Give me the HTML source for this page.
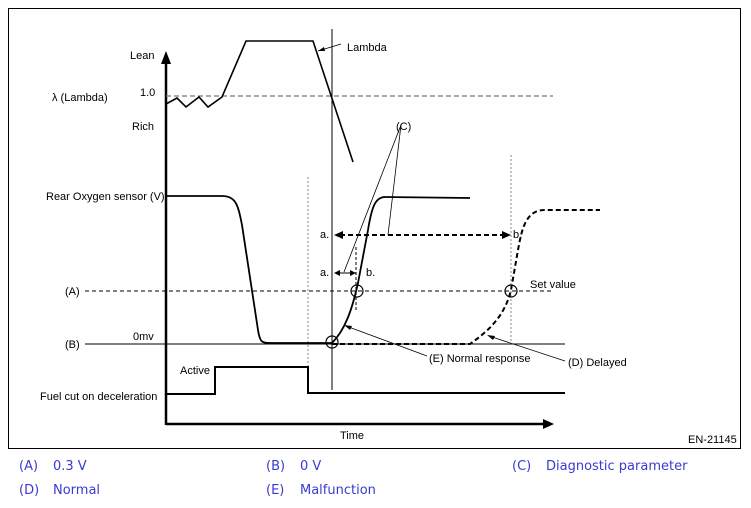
<!DOCTYPE html>
<html><head><meta charset="utf-8"><style>
html,body{margin:0;padding:0;background:#fff;}
body{width:751px;height:508px;position:relative;overflow:hidden;font-family:"Liberation Sans",sans-serif;}
.lg{position:absolute;color:#3a3ad0;font-size:13px;font-family:"DejaVu Sans","Liberation Sans",sans-serif;}
</style></head><body>
<svg width="751" height="508" style="position:absolute;left:0;top:0" font-family="Liberation Sans, sans-serif" font-size="11">
<rect x="8.5" y="8.5" width="732" height="440" fill="none" stroke="#000" stroke-width="1"/>
<line x1="166" y1="60" x2="166" y2="425" stroke="#000" stroke-width="2.5"/>
<polygon points="161,64 171,64 166,51" fill="#000"/>
<line x1="166" y1="424" x2="545" y2="424" stroke="#000" stroke-width="2.5"/>
<polygon points="543,419 543,429 554,424" fill="#000"/>
<line x1="332" y1="29" x2="332" y2="390" stroke="#000" stroke-width="1"/>
<line x1="166" y1="96" x2="553" y2="96" stroke="#777" stroke-width="1.2" stroke-dasharray="5,3"/>
<polyline points="166,104 177,98 186,107 199,97 208,107 222,97 246,41 313,41 353,162" fill="none" stroke="#000" stroke-width="1.6"/>
<line x1="341" y1="44" x2="318" y2="51" stroke="#000" stroke-width="0.8"/>
<polygon points="318,51 324,47 325,51" fill="#000"/>
<line x1="85" y1="291" x2="553" y2="291" stroke="#000" stroke-width="1" stroke-dasharray="4,3"/>
<line x1="85" y1="344" x2="565" y2="344" stroke="#000" stroke-width="1"/>
<line x1="308" y1="177" x2="308" y2="392" stroke="#888" stroke-width="1" stroke-dasharray="2,2"/>
<line x1="511" y1="155" x2="511" y2="344" stroke="#888" stroke-width="1" stroke-dasharray="2,2"/>
<path d="M166,196 L222,196 C236,196 238,205 242,225 L258,330 C260,343 262,343 272,343 L332,343" fill="none" stroke="#000" stroke-width="1.8"/>
<path d="M332,343 C345,330 352,310 358,283 L368,230 C372,205 376,197 385,197 L470,198" fill="none" stroke="#000" stroke-width="1.8"/>
<path d="M332,344 L470,344 C490,330 505,315 511,290 L518,250 C522,228 526,210 545,210 L600,210" fill="none" stroke="#000" stroke-width="2" stroke-dasharray="5,3"/>
<line x1="340" y1="235" x2="505" y2="235" stroke="#000" stroke-width="2" stroke-dasharray="5,3"/>
<polygon points="334,235 343,231 343,239" fill="#000"/>
<polygon points="511,235 502,231 502,239" fill="#000"/>
<line x1="338" y1="273" x2="356" y2="273" stroke="#000" stroke-width="1"/>
<polygon points="334,273 340,270 340,276" fill="#000"/>
<polygon points="356,273 350,270 350,276" fill="#000"/>
<line x1="356" y1="247" x2="356" y2="310" stroke="#000" stroke-width="1" stroke-dasharray="3,2"/>
<line x1="401" y1="125" x2="344" y2="272" stroke="#000" stroke-width="0.8"/>
<line x1="401" y1="125" x2="388" y2="235" stroke="#000" stroke-width="0.8"/>
<circle cx="357" cy="291" r="6" fill="none" stroke="#000" stroke-width="1.2"/>
<circle cx="511" cy="291" r="6" fill="none" stroke="#000" stroke-width="1.2"/>
<circle cx="332" cy="342" r="6" fill="none" stroke="#000" stroke-width="1.2"/>
<line x1="427" y1="356" x2="346" y2="326" stroke="#000" stroke-width="0.8"/>
<polygon points="344,325 352,326 350,330" fill="#000"/>
<line x1="565" y1="361" x2="489" y2="336" stroke="#000" stroke-width="0.8"/>
<polygon points="487,335 495,336 493,340" fill="#000"/>
<polyline points="166,394 215,394 215,367 308,367 308,393 565,393" fill="none" stroke="#000" stroke-width="2"/>
<text x="130" y="59">Lean</text>
<text x="140" y="96">1.0</text>
<text x="52" y="101">λ  (Lambda)</text>
<text x="132" y="130">Rich</text>
<text x="347" y="51">Lambda</text>
<text x="46" y="200">Rear Oxygen sensor  (V)</text>
<text x="396" y="130">(C)</text>
<text x="320" y="238">a.</text>
<text x="513" y="238">b.</text>
<text x="320" y="276">a.</text>
<text x="366" y="276">b.</text>
<text x="530" y="288">Set value</text>
<text x="65" y="295">(A)</text>
<text x="65" y="348">(B)</text>
<text x="133" y="340">0mv</text>
<text x="429" y="362">(E) Normal response</text>
<text x="568" y="366">(D) Delayed</text>
<text x="180" y="374">Active</text>
<text x="40" y="400">Fuel cut on deceleration</text>
<text x="340" y="439">Time</text>
<text x="688" y="443">EN-21145</text>
</svg>
<div class="lg" style="left:19px;top:459px">(A)</div><div class="lg" style="left:53px;top:459px">0.3 V</div>
<div class="lg" style="left:266px;top:459px">(B)</div><div class="lg" style="left:300px;top:459px">0 V</div>
<div class="lg" style="left:512px;top:459px">(C)</div><div class="lg" style="left:546px;top:459px">Diagnostic parameter</div>
<div class="lg" style="left:19px;top:483px">(D)</div><div class="lg" style="left:53px;top:483px">Normal</div>
<div class="lg" style="left:266px;top:483px">(E)</div><div class="lg" style="left:300px;top:483px">Malfunction</div>
</body></html>
